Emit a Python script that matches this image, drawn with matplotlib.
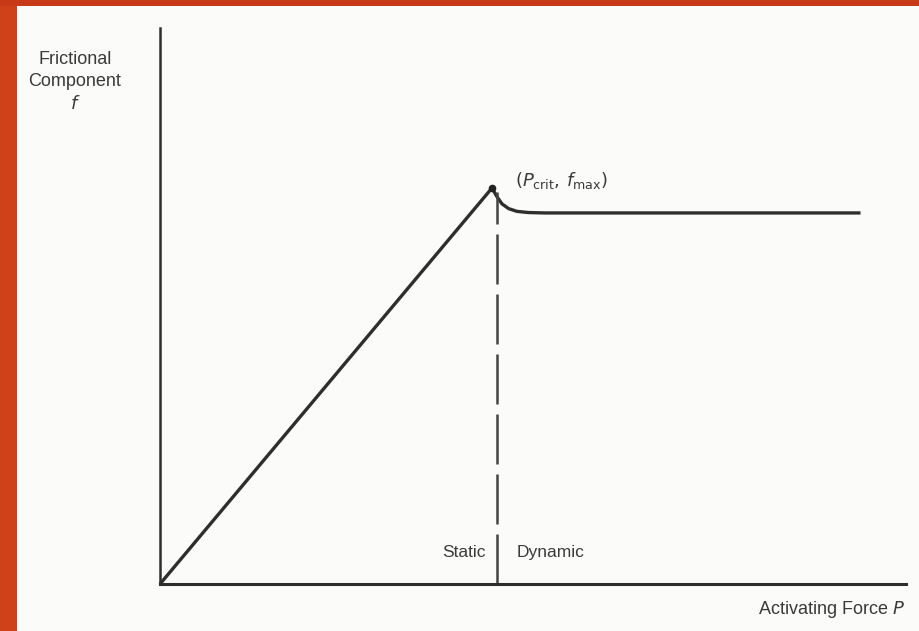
import matplotlib
matplotlib.use("Agg")
from matplotlib import pyplot as plt
from matplotlib.patches import Rectangle

# friction curve (P_crit = 1, f_max = 1)
P = [0.0, 1.0, 1.015, 1.03, 1.05, 1.075, 1.11, 1.16, 2.11]
f = [0.0, 1.0, 0.978, 0.960, 0.948, 0.941, 0.938, 0.937, 0.937]
P_crit = 1.0
f_max = 1.0
line_col = '#2e2e2e'
text_col = '#3a3a3a'

fig = plt.figure(figsize=(9.2, 6.31), dpi=100)
fig.patch.set_facecolor('#fbfbfa')

# orange frame on the left and top
fig.patches.append(Rectangle((0, 0), 17/920, 1, transform=fig.transFigure,
                             facecolor='#cf4219', edgecolor='none', zorder=0))
fig.patches.append(Rectangle((0, 1-6/631), 1, 6/631, transform=fig.transFigure,
                             facecolor='#c73a17', edgecolor='none', zorder=0))

ax = fig.add_axes([160/920, 1-584/631, 746/920, 556/631])
ax.set_facecolor('none')
ax.set_xlim(0, 746/332)
ax.set_ylim(0, 556/396)
for s in ['top', 'right']:
    ax.spines[s].set_visible(False)
ax.spines['left'].set_color(line_col)
ax.spines['left'].set_linewidth(1.8)
ax.spines['bottom'].set_color(line_col)
ax.spines['bottom'].set_linewidth(2.2)
ax.set_xticks([])
ax.set_yticks([])

ax.plot(P, f, color=line_col, lw=2.4, solid_capstyle='butt', clip_on=False)
ax.plot([P_crit], [f_max], 'o', color='#222222', ms=4.5, clip_on=False)
ax.plot([P_crit + 0.015, P_crit + 0.015], [0, f_max - 0.01], color='#444444',
        lw=1.8, dashes=(20, 4))

ax.text(P_crit + 0.07, f_max + 0.02, r'$(P_{\rm crit},\, f_{\rm max})$',
        fontsize=13, color=text_col, family='DejaVu Sans', ha='left', va='center')
ax.text(P_crit - 0.02, 0.08, 'Static', fontsize=12.5, color=text_col,
        family='Liberation Sans', ha='right', va='center')
ax.text(P_crit + 0.075, 0.08, 'Dynamic', fontsize=12.5, color=text_col,
        family='Liberation Sans', ha='left', va='center')

fig.text(905/920, 1-610/631, 'Activating Force $P$', fontsize=13, color=text_col,
         family='Liberation Sans', ha='right', va='center')
fig.text(75/920, 1-82/631, 'Frictional\nComponent\n$f$', fontsize=13, color=text_col,
         family='Liberation Sans', ha='center', va='center', linespacing=1.35)

fig.savefig('out.png', dpi=100, facecolor=fig.get_facecolor())
